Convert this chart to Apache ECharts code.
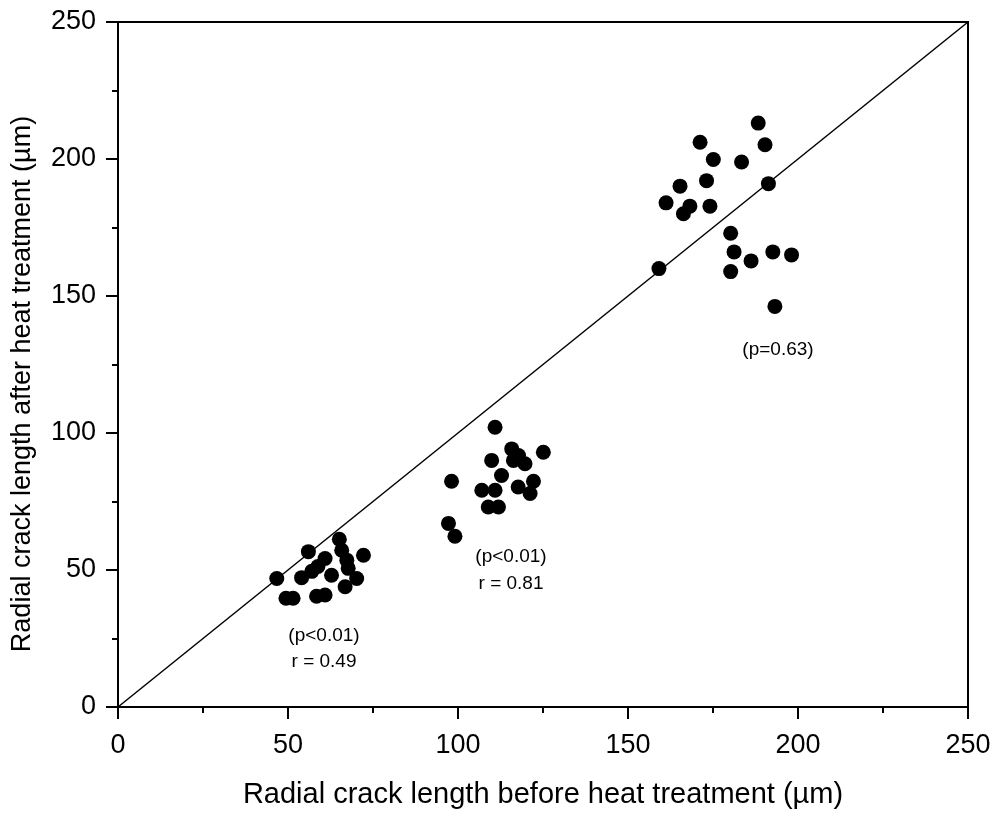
<!DOCTYPE html>
<html>
<head>
<meta charset="utf-8">
<script src="https://cdn.jsdelivr.net/npm/echarts@6/dist/echarts.min.js"></script>
<style>
html,body{margin:0;padding:0;background:#fff;}
#chart{width:997px;height:814px;}
</style>
</head>
<body>
<div id="chart"></div>
<script>
// before / after heat treatment (um)
var group1 = [
	[46.7,46.9],[49.4,39.7],[51.5,39.7],[54.0,47.2],[56.0,56.7],[57.0,49.5],
	[58.8,51.3],[60.9,54.2],[58.4,40.4],[60.9,40.9],[62.8,48.1],[65.1,61.2],
	[65.8,57.2],[67.3,53.6],[67.7,50.6],[70.2,46.9],[66.8,43.9],[72.2,55.4]
];
var group2 = [
	[110.9,102.1],[125.1,93.0],[115.8,94.2],[117.8,91.8],[116.3,90.0],[119.7,88.8],
	[109.9,90.0],[112.8,84.5],[98.1,82.4],[122.2,82.4],[117.7,80.3],[121.2,77.9],
	[107.0,79.1],[110.9,79.1],[108.9,73.0],[111.9,73.0],[97.2,67.0],[99.1,62.3]
];
var group3 = [
	[188.3,213.1],[190.3,205.2],[171.2,206.1],[175.1,199.8],[183.4,198.9],[173.1,192.1],
	[165.3,190.1],[191.3,191.0],[161.2,184.0],[168.2,182.8],[166.3,180.0],[174.1,182.8],
	[180.2,172.9],[181.2,166.1],[192.6,166.1],[198.1,165.0],[186.2,162.8],[180.2,158.9],
	[159.1,160.0],[193.2,146.2]
];
var identityLine = [[0,0],[250,250]];
var notes = [
	{text:'(p=0.63)', x:778, y:350},
	{text:'(p<0.01)', x:511, y:557},
	{text:'r = 0.81', x:511, y:584},
	{text:'(p<0.01)', x:324, y:636},
	{text:'r = 0.49', x:324, y:662}
];

var font = 'Arial, "Liberation Sans", sans-serif';
var myChart = echarts.init(document.getElementById('chart'));

function axisCommon(name, gap, nameSize, labelMargin){
	return {
		type:'value', min:0, max:250, interval:50,
		name:name, nameLocation:'middle', nameGap:gap,
		nameTextStyle:{fontFamily:font, fontSize:nameSize, color:'#000'},
		axisLine:{show:true, onZero:false, lineStyle:{color:'#000', width:2}},
		axisTick:{show:true, inside:false, length:12, lineStyle:{color:'#000', width:2}},
		minorTick:{show:true, splitNumber:2, length:6, lineStyle:{color:'#000', width:2}},
		axisLabel:{fontFamily:font, fontSize:27, color:'#000', margin:labelMargin},
		splitLine:{show:false}
	};
}

var scatterStyle = {type:'scatter', symbol:'circle', symbolSize:15, itemStyle:{color:'#000', opacity:1}, z:3};

var option = {
	backgroundColor:'#fff',
	animation:false,
	grid:{left:118, top:22, right:29, bottom:105, show:true, borderColor:'#000', borderWidth:2},
	xAxis: axisCommon('Radial crack length before heat treatment (\u00b5m)', 73, 29, 25),
	yAxis: axisCommon('', 0, 27, 22),
	series:[
		{type:'line', data:identityLine, symbol:'none', lineStyle:{color:'#000', width:1.5}, z:2},
		Object.assign({data:group1}, scatterStyle),
		Object.assign({data:group2}, scatterStyle),
		Object.assign({data:group3}, scatterStyle)
	],
	graphic: notes.map(function(n){
		return {type:'text', x:n.x, y:n.y, style:{text:n.text, fontFamily:font, fontSize:19, fill:'#000', align:'center', verticalAlign:'middle'}};
	}).concat([{
		type:'text', x:23, y:384, rotation:Math.PI/2,
		style:{text:'Radial crack length after heat treatment (\u00b5m)', fontFamily:font, fontSize:27, fill:'#000', align:'center', verticalAlign:'middle'}
	}])
};
myChart.setOption(option);
</script>
</body>
</html>
